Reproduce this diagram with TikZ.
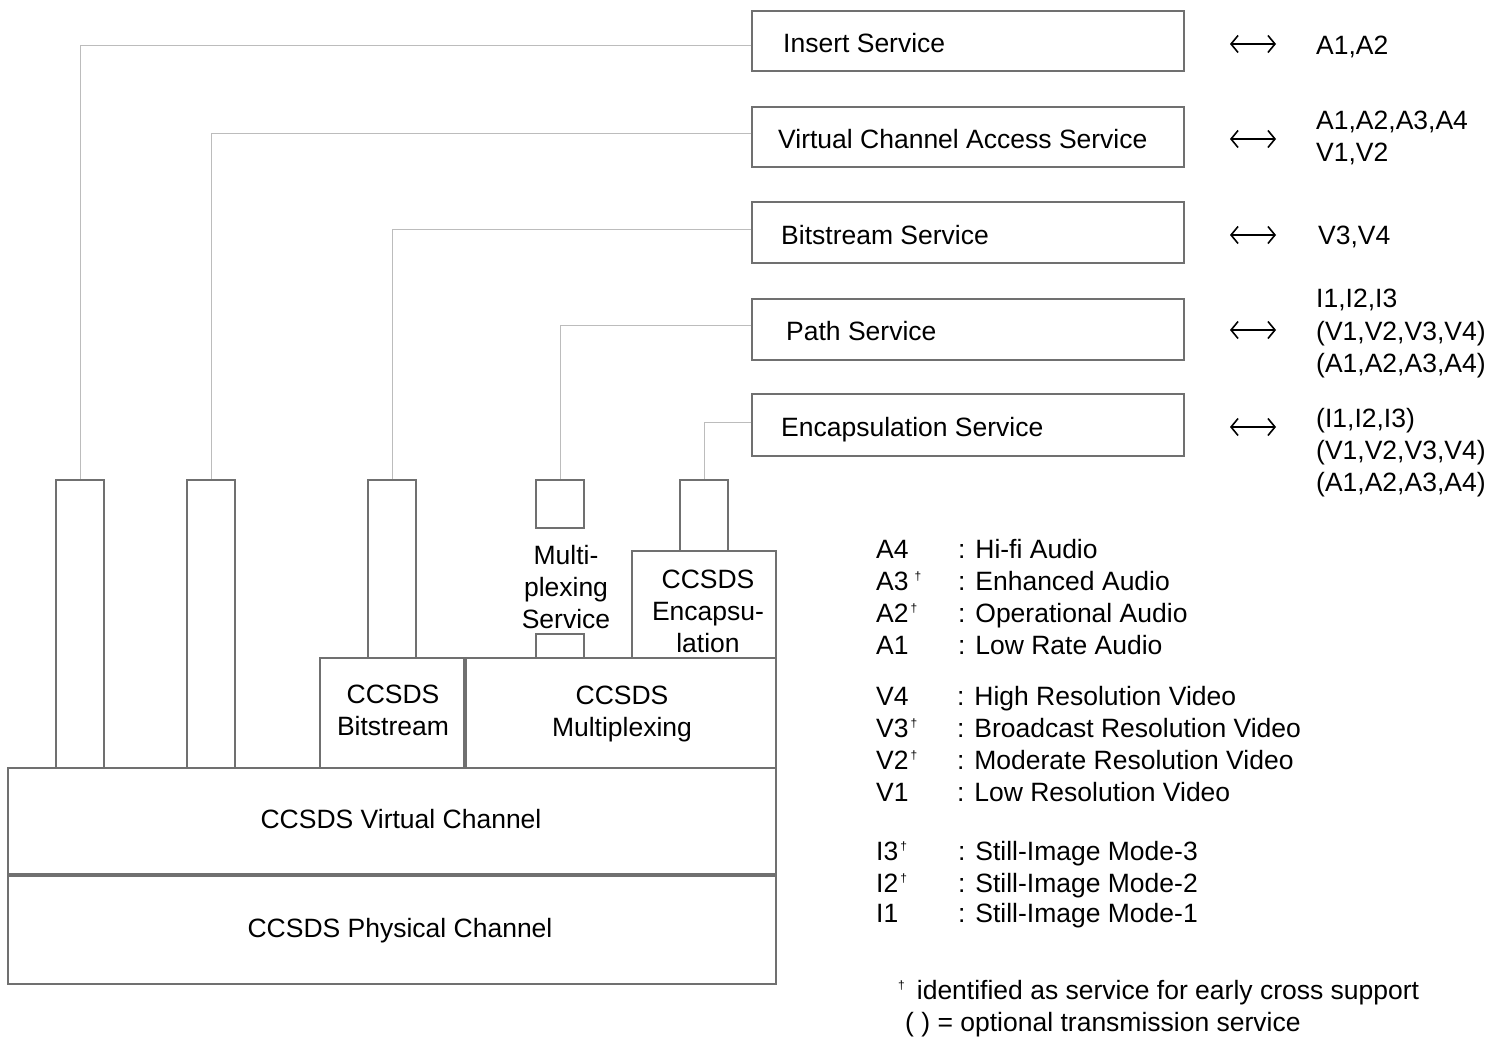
\documentclass[tikz,border=0pt]{standalone}
\usepackage{fontspec}
\setmainfont{Liberation Sans}
\usetikzlibrary{arrows.meta}
\definecolor{boxc}{RGB}{112,112,112}
\definecolor{conc}{RGB}{188,188,188}
\newcommand\dg{\raisebox{10pt}{\fontsize{12}{12}\selectfont †}}
\begin{document}
\begin{tikzpicture}[x=1pt,y=-1pt,
  font=\fontsize{26.5}{32}\selectfont,
  svc/.style={draw=boxc,line width=1.4pt,minimum width=432pt,inner sep=0pt},
  blk/.style={draw=boxc,line width=1.4pt,inner sep=0pt},
  con/.style={draw=conc,line width=1pt},
  lbl/.style={align=center,inner sep=0pt},
  txt/.style={anchor=base west,inner sep=0pt},
  lrarrow/.style={draw=black,line width=1.6pt,{Straight Barb[length=7pt,width=17pt]}-{Straight Barb[length=7pt,width=17pt]}}]
\useasboundingbox (0,0) rectangle (1491,1040);

% service boxes
\node[svc,minimum height=60pt] (ins) at (968,41) {};
\node[svc,minimum height=60pt] (vca) at (968,137) {};
\node[svc,minimum height=61pt] (bss) at (968,232.5) {};
\node[svc,minimum height=61pt] (pth) at (968,329.5) {};
\node[svc,minimum height=62pt] (ens) at (968,425) {};

\node[txt] (tins) at (783,52.5) {Insert Service};
\node[txt] (tvca) at (778,148.5) {Virtual Channel Access Service};
\node[txt] (tbss) at (781,244.5) {Bitstream Service};
\node[txt] (tpth) at (786,340.5) {Path Service};
\node[txt] (tens) at (781,436.5) {Encapsulation Service};

% double arrows (symbols)
\coordinate (ar1) at (1253,44);
\coordinate (ar2) at (1253,139);
\coordinate (ar3) at (1253,235);
\coordinate (ar4) at (1253,330);
\coordinate (ar5) at (1253,427);
\foreach \a in {ar1,ar2,ar3,ar4,ar5}
  \draw[lrarrow] ([xshift=-23pt]\a) -- ([xshift=23pt]\a);

% right lists
\node[txt] (l1a) at (1316,54.5) {A1,A2};
\node[txt] (l2a) at (1316,129.5) {A1,A2,A3,A4};
\node[txt] (l2b) at (1316,161.5) {V1,V2};
\node[txt] (l3a) at (1318,244.5) {V3,V4};
\node[txt] (l4a) at (1316,307.5) {I1,I2,I3};
\node[txt] (l4b) at (1316,340.5) {(V1,V2,V3,V4)};
\node[txt] (l4c) at (1316,372.5) {(A1,A2,A3,A4)};
\node[txt] (l5a) at (1316,427.5) {(I1,I2,I3)};
\node[txt] (l5b) at (1316,459.5) {(V1,V2,V3,V4)};
\node[txt] (l5c) at (1316,491.5) {(A1,A2,A3,A4)};

% stack blocks
\node[blk,minimum width=48pt,minimum height=288pt] (b1) at (80,624) {};
\node[blk,minimum width=48pt,minimum height=288pt] (b2) at (211,624) {};
\node[blk,minimum width=48pt,minimum height=178pt] (b3) at (392,569) {};
\node[blk,minimum width=48pt,minimum height=48pt] (b4) at (560,504) {};
\node[blk,minimum width=48pt,minimum height=71pt] (b5) at (704,515.5) {};
\node[blk,minimum width=48pt,minimum height=24pt] (b6) at (560,646) {};
\node[blk,minimum width=144pt,minimum height=107pt] (encl) at (704,604.5) {};
\node[blk,minimum width=144pt,minimum height=110pt] (bits) at (392,713) {};
\node[blk,minimum width=310pt,minimum height=110pt] (mux) at (621,713) {};
\node[blk,minimum width=768pt,minimum height=106pt] (vc) at (392,821) {};
\node[blk,minimum width=768pt,minimum height=108pt] (pc) at (392,930) {};

\node[lbl] (tmxs) at (566,587.5) {Multi-\\plexing\\Service};
\node[lbl] (tencl) at (708,611) {CCSDS\\Encapsu-\\lation};
\node[lbl] (tbits) at (393,710) {CCSDS\\Bitstream};
\node[lbl] (tmux) at (622,714) {CCSDS\\Multiplexing};
\node[lbl] (tvc) at (401,819) {CCSDS Virtual Channel};
\node[lbl] (tpc) at (400,931) {CCSDS Physical Channel};

% connectors
\draw[con] ([yshift=-5pt]ins.west) -| (b1.north);
\draw[con] ([yshift=3pt]vca.west) -| (b2.north);
\draw[con] ([yshift=2.5pt]bss.west) -| (b3.north);
\draw[con] ([yshift=3.5pt]pth.west) -| (b4.north);
\draw[con] ([yshift=3pt]ens.west) -| (b5.north);

% legend
\node[txt] (ka4) at (876,558.5) {A4};
\node[txt] (ka3) at (876,590.5) {A3\hspace{6pt}\dg};
\node[txt] (ka2) at (876,622.5) {A2\hspace{2pt}\dg};
\node[txt] (ka1) at (876,654.5) {A1};
\node[txt] (da4) at (958,558.5) {: Hi-fi Audio};
\node[txt] (da3) at (958,590.5) {: Enhanced Audio};
\node[txt] (da2) at (958,622.5) {: Operational Audio};
\node[txt] (da1) at (958,654.5) {: Low Rate Audio};

\node[txt] (kv4) at (876,705.5) {V4};
\node[txt] (kv3) at (876,737.5) {V3\hspace{2pt}\dg};
\node[txt] (kv2) at (876,769.5) {V2\hspace{2pt}\dg};
\node[txt] (kv1) at (876,801.5) {V1};
\node[txt] (dv4) at (957,705.5) {: High Resolution Video};
\node[txt] (dv3) at (957,737.5) {: Broadcast Resolution Video};
\node[txt] (dv2) at (957,769.5) {: Moderate Resolution Video};
\node[txt] (dv1) at (957,801.5) {: Low Resolution Video};

\node[txt] (ki3) at (876,860.5) {I3\hspace{2pt}\dg};
\node[txt] (ki2) at (876,892.5) {I2\hspace{2pt}\dg};
\node[txt] (ki1) at (876,922.5) {I1};
\node[txt] (di3) at (958,860.5) {: Still-Image Mode-3};
\node[txt] (di2) at (958,892.5) {: Still-Image Mode-2};
\node[txt] (di1) at (958,922.5) {: Still-Image Mode-1};

\node[txt] (fn1) at (898,999.5) {\dg\hspace{12pt}identified as service for early cross support};
\node[txt] (fn2) at (905,1031) {( ) = optional transmission service};
\end{tikzpicture}
\end{document}
